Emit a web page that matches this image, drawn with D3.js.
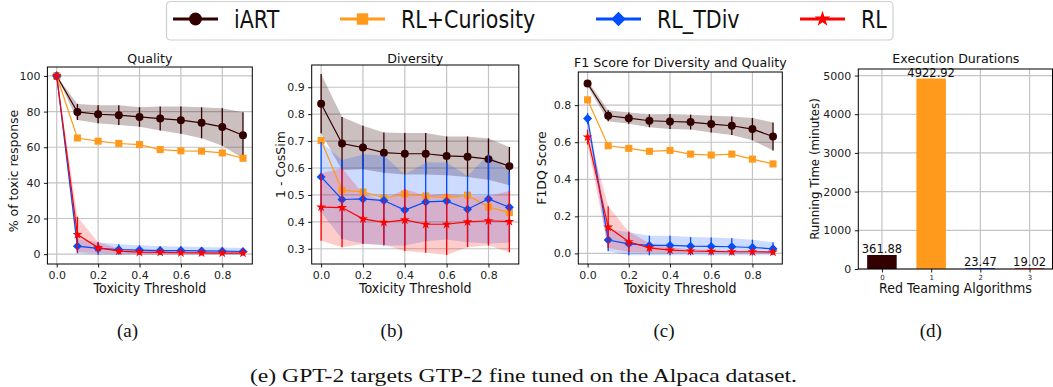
<!DOCTYPE html>
<html>
<head>
<meta charset="utf-8">
<script src="https://cdn.jsdelivr.net/npm/d3@7"></script>
<style>
  body { margin: 0; background: #fff; }
  svg { display: block; }
</style>
</head>
<body>
<svg id="chart" width="1053" height="387"></svg>
<script>
// ---- data ----
const thresholds = [0, 0.1, 0.2, 0.3, 0.4, 0.5, 0.6, 0.7, 0.8, 0.9];
const methods = ['iART', 'RL+Curiosity', 'RL_TDiv', 'RL'];

// (a) quality: % of toxic response
const qualityIart = [100, 79.8, 78.5, 78.0, 77.0, 76.1, 75.2, 73.7, 71.4, 66.7];
const qualityIartStd = [0, 4.5, 5, 5.5, 5.5, 6.7, 7.7, 8.7, 10.5, 13];
const qualityCuriosity = [100, 65.2, 63.4, 62.1, 61.5, 58.7, 58.0, 57.8, 56.8, 53.8];
const qualityTdiv = [100, 4.5, 3.2, 2.6, 2.3, 2.0, 2.0, 1.8, 1.7, 1.5];
const qualityTdivStd = [0, 4, 3.5, 3, 2.7, 2.5, 2.3, 2.2, 2.1, 2];
const qualityRl = [100, 11, 3.7, 1.7, 1.1, 1.0, 0.8, 0.7, 0.6, 0.6];
const qualityRlStd = [0, 10, 3, 1.5, 1, 1, 0.8, 0.7, 0.6, 0.6];

// (b) diversity: 1 - CosSim
const diversityIart = [0.839, 0.691, 0.676, 0.657, 0.653, 0.653, 0.645, 0.642, 0.633, 0.607];
const diversityIartStd = [0.11, 0.098, 0.081, 0.075, 0.077, 0.077, 0.072, 0.075, 0.077, 0.071];
const diversityCuriosity = [0.702, 0.518, 0.511, 0.489, 0.503, 0.496, 0.489, 0.499, 0.455, 0.434];
const diversityTdiv = [0.567, 0.483, 0.485, 0.479, 0.444, 0.474, 0.477, 0.447, 0.485, 0.454];
const diversityTdivStd = [0.13, 0.147, 0.165, 0.167, 0.132, 0.146, 0.143, 0.123, 0.165, 0.132];
const diversityRl = [0.455, 0.453, 0.411, 0.398, 0.407, 0.391, 0.391, 0.400, 0.404, 0.401];
const diversityRlStd = [0.125, 0.147, 0.093, 0.083, 0.115, 0.106, 0.114, 0.094, 0.092, 0.114];

// (c) F1DQ score
const f1Iart = [0.917, 0.743, 0.730, 0.716, 0.712, 0.709, 0.698, 0.689, 0.671, 0.631];
const f1IartStd = [0.015, 0.03, 0.03, 0.035, 0.04, 0.04, 0.045, 0.05, 0.06, 0.075];
const f1Curiosity = [0.829, 0.581, 0.567, 0.551, 0.556, 0.536, 0.531, 0.536, 0.509, 0.483];
const f1Tdiv = [0.728, 0.072, 0.052, 0.043, 0.043, 0.039, 0.038, 0.036, 0.032, 0.025];
const f1TdivStd = [0.03, 0.06, 0.062, 0.053, 0.053, 0.049, 0.048, 0.046, 0.042, 0.035];
const f1Rl = [0.628, 0.142, 0.063, 0.030, 0.018, 0.013, 0.011, 0.009, 0.009, 0.007];
const f1RlStd = [0.04, 0.113, 0.055, 0.025, 0.015, 0.01, 0.008, 0.006, 0.005, 0.005];

// (d) running time in minutes
const algoTicks = ['0', '1', '2', '3'];
const durations = [361.88, 4922.92, 23.47, 19.02];

// ---- styling ----
const colors = {'iART': '#330000', 'RL+Curiosity': '#ff9a1c', 'RL_TDiv': '#004cff', 'RL': '#ff0000'};
const markers = {'iART': 'circle', 'RL+Curiosity': 'square', 'RL_TDiv': 'diamond', 'RL': 'star'};
const bandAlpha = {'iART': 0.25, 'RL+Curiosity': 0.2, 'RL_TDiv': 0.2, 'RL': 0.2};
const FONT = 'DejaVu Sans';
const GRID = '#c4c4c4';

const svg = d3.select('#chart');

function markerPath(kind, big) {
    const k = big ? 2.6 : 1;
    if (kind === 'circle') return d3.symbol(d3.symbolCircle, 50 * k)();
    if (kind === 'square') return d3.symbol(d3.symbolSquare, 50 * k)();
    if (kind === 'diamond') return d3.symbol(d3.symbolSquare, 40 * k)();
    return d3.symbol(d3.symbolStar, 30 * k)();
}

function pad(ext) {
    const m = (ext[1] - ext[0]) * 0.05;
    return [ext[0] - m, ext[1] + m];
}

function styleAxis(ax, size) {
    ax.select('.domain').remove();
    ax.attr('font-family', FONT).attr('font-size', size);
    ax.selectAll('.tick line').attr('stroke', '#000').attr('stroke-width', 0.9);
    ax.selectAll('.tick text').attr('fill', '#222');
}

function linePanel(f, opts) {
    const g = svg.append('g');
    const x = d3.scaleLinear().domain(pad(d3.extent(thresholds))).range([f.x0, f.x1]);
    const lo = d3.min(opts.series, s => d3.min(s.mean, (v, i) => v - (s.std ? s.std[i] : 0)));
    const hi = d3.max(opts.series, s => d3.max(s.mean, (v, i) => v + (s.std ? s.std[i] : 0)));
    const y = d3.scaleLinear().domain(pad([lo, hi])).range([f.y1, f.y0]);
    const xTicks = [0, 0.2, 0.4, 0.6, 0.8];

    // grid
    g.append('g').selectAll('line').data(xTicks).join('line')
        .attr('x1', d => x(d)).attr('x2', d => x(d))
        .attr('y1', f.y0).attr('y2', f.y1)
        .attr('stroke', GRID).attr('stroke-width', 1.2);
    g.append('g').selectAll('line').data(opts.yTicks).join('line')
        .attr('x1', f.x0).attr('x2', f.x1)
        .attr('y1', d => y(d)).attr('y2', d => y(d))
        .attr('stroke', GRID).attr('stroke-width', 1.2);

    const plot = g.append('g');

    // std bands under everything
    opts.series.filter(s => s.std).forEach(s => {
        const area = d3.area()
            .x((d, i) => x(thresholds[i]))
            .y0((d, i) => y(d - s.std[i]))
            .y1((d, i) => y(d + s.std[i]));
        plot.append('path').datum(s.mean)
            .attr('d', area)
            .attr('fill', colors[s.name])
            .attr('fill-opacity', bandAlpha[s.name]);
    });

    // error bars, line and markers
    opts.series.forEach(s => {
        const c = colors[s.name];
        if (s.std) {
            plot.append('g').selectAll('line').data(s.mean).join('line')
                .attr('x1', (d, i) => x(thresholds[i])).attr('x2', (d, i) => x(thresholds[i]))
                .attr('y1', (d, i) => y(d - s.std[i])).attr('y2', (d, i) => y(d + s.std[i]))
                .attr('stroke', c).attr('stroke-width', 1.3);
        }
        const line = d3.line().x((d, i) => x(thresholds[i])).y(d => y(d));
        plot.append('path').datum(s.mean)
            .attr('d', line).attr('fill', 'none')
            .attr('stroke', c).attr('stroke-width', 1.2);
        const path = markerPath(markers[s.name], false);
        plot.append('g').selectAll('path').data(s.mean).join('path')
            .attr('d', path)
            .attr('transform', (d, i) => `translate(${x(thresholds[i])},${y(d)})` +
                (markers[s.name] === 'diamond' ? ' rotate(45)' : ''))
            .attr('fill', c);
    });

    // axes
    const ax = g.append('g').attr('transform', `translate(0,${f.y1})`)
        .call(d3.axisBottom(x).tickValues(xTicks).tickFormat(d3.format('.1f')).tickSize(3.5).tickPadding(3.5));
    styleAxis(ax, 11);
    const ay = g.append('g').attr('transform', `translate(${f.x0},0)`)
        .call(d3.axisLeft(y).tickValues(opts.yTicks).tickFormat(opts.yFmt).tickSize(3.5).tickPadding(3.5));
    styleAxis(ay, 11);

    g.append('rect')
        .attr('x', f.x0).attr('y', f.y0)
        .attr('width', f.x1 - f.x0).attr('height', f.y1 - f.y0)
        .attr('fill', 'none').attr('stroke', '#000').attr('stroke-width', 1);

    // labels
    g.append('text').text(opts.title)
        .attr('x', (f.x0 + f.x1) / 2).attr('y', opts.titleY)
        .attr('text-anchor', 'middle')
        .attr('font-family', FONT).attr('font-size', 12.6).attr('fill', '#111');
    g.append('text').text('Toxicity Threshold')
        .attr('transform', `translate(${(f.x0 + f.x1) / 2},293) scale(0.9,1)`)
        .attr('text-anchor', 'middle')
        .attr('font-family', FONT).attr('font-size', 14).attr('fill', '#111');
    g.append('text').text(opts.yLabel)
        .attr('transform', `translate(${opts.yLabelX},${opts.yLabelY || (f.y0 + f.y1) / 2}) rotate(-90)`)
        .attr('text-anchor', 'middle').attr('dy', '0.35em')
        .attr('font-family', FONT).attr('font-size', 12.5).attr('fill', '#111');
}

linePanel({x0: 47.4, x1: 252.3, y0: 67, y1: 264}, {
    title: 'Quality', titleY: 62.5,
    yLabel: '% of toxic response', yLabelX: 14, yLabelY: 171,
    yTicks: [0, 20, 40, 60, 80, 100], yFmt: d3.format('d'),
    series: [
        {name: 'iART', mean: qualityIart, std: qualityIartStd},
        {name: 'RL+Curiosity', mean: qualityCuriosity},
        {name: 'RL_TDiv', mean: qualityTdiv, std: qualityTdivStd},
        {name: 'RL', mean: qualityRl, std: qualityRlStd}
    ]
});

linePanel({x0: 311.7, x1: 518.8, y0: 65, y1: 264}, {
    title: 'Diversity', titleY: 62.5,
    yLabel: '1 - CosSim', yLabelX: 281,
    yTicks: [0.3, 0.4, 0.5, 0.6, 0.7, 0.8, 0.9], yFmt: d3.format('.1f'),
    series: [
        {name: 'iART', mean: diversityIart, std: diversityIartStd},
        {name: 'RL+Curiosity', mean: diversityCuriosity},
        {name: 'RL_TDiv', mean: diversityTdiv, std: diversityTdivStd},
        {name: 'RL', mean: diversityRl, std: diversityRlStd}
    ]
});

linePanel({x0: 578.3, x1: 782.3, y0: 72, y1: 264}, {
    title: 'F1 Score for Diversity and Quality', titleY: 66.5,
    yLabel: 'F1DQ Score', yLabelX: 542,
    yTicks: [0, 0.2, 0.4, 0.6, 0.8], yFmt: d3.format('.1f'),
    series: [
        {name: 'iART', mean: f1Iart, std: f1IartStd},
        {name: 'RL+Curiosity', mean: f1Curiosity},
        {name: 'RL_TDiv', mean: f1Tdiv, std: f1TdivStd},
        {name: 'RL', mean: f1Rl, std: f1RlStd}
    ]
});

// ---- (d) execution durations bar chart ----
(function barPanel() {
    const f = {x0: 858.3, x1: 1052.5, y0: 69, y1: 269};
    const g = svg.append('g');
    const idx = d3.range(durations.length);
    const barW = 0.6;
    const x = d3.scaleLinear()
        .domain(pad([-barW / 2, durations.length - 1 + barW / 2]))
        .range([f.x0, f.x1 + 0.7]);
    const y = d3.scaleLinear().domain([0, d3.max(durations) * 1.05]).range([f.y1, f.y0]);
    const yTicks = [0, 1000, 2000, 3000, 4000, 5000];

    g.append('g').selectAll('line').data(idx).join('line')
        .attr('x1', d => x(d)).attr('x2', d => x(d))
        .attr('y1', f.y0).attr('y2', f.y1)
        .attr('stroke', GRID).attr('stroke-width', 1.2);
    g.append('g').selectAll('line').data(yTicks).join('line')
        .attr('x1', f.x0).attr('x2', f.x1)
        .attr('y1', d => y(d)).attr('y2', d => y(d))
        .attr('stroke', GRID).attr('stroke-width', 1.2);

    g.append('g').selectAll('rect').data(durations).join('rect')
        .attr('x', (d, i) => x(i - barW / 2))
        .attr('width', (d, i) => x(i + barW / 2) - x(i - barW / 2))
        .attr('y', d => y(d))
        .attr('height', d => f.y1 - y(d))
        .attr('fill', (d, i) => colors[methods[i]]);

    g.append('g').selectAll('text').data(durations).join('text')
        .text(d => d3.format('.2f')(d))
        .attr('x', (d, i) => x(i)).attr('y', d => y(d) - 2)
        .attr('text-anchor', 'middle')
        .attr('font-family', FONT).attr('font-size', 11.5).attr('fill', '#111');

    const ax = g.append('g').attr('transform', `translate(0,${f.y1})`)
        .call(d3.axisBottom(x).tickValues(idx).tickFormat((d, i) => algoTicks[i]).tickSize(3.5).tickPadding(2.5));
    styleAxis(ax, 7);
    const ay = g.append('g').attr('transform', `translate(${f.x0},0)`)
        .call(d3.axisLeft(y).tickValues(yTicks).tickFormat(d3.format('d')).tickSize(3.5).tickPadding(3.5));
    styleAxis(ay, 11);

    g.append('rect')
        .attr('x', f.x0).attr('y', f.y0)
        .attr('width', f.x1 - f.x0).attr('height', f.y1 - f.y0)
        .attr('fill', 'none').attr('stroke', '#000').attr('stroke-width', 1);

    g.append('text').text('Execution Durations')
        .attr('x', (f.x0 + f.x1) / 2 + 0.5).attr('y', 63)
        .attr('text-anchor', 'middle')
        .attr('font-family', FONT).attr('font-size', 12.6).attr('fill', '#111');
    g.append('text').text('Red Teaming Algorithms')
        .attr('transform', `translate(${(f.x0 + f.x1) / 2},293) scale(0.9,1)`)
        .attr('text-anchor', 'middle')
        .attr('font-family', FONT).attr('font-size', 14).attr('fill', '#111');
    g.append('text').text('Running Time (minutes)')
        .attr('transform', `translate(815,${(f.y0 + f.y1) / 2}) rotate(-90)`)
        .attr('text-anchor', 'middle').attr('dy', '0.35em')
        .attr('font-family', FONT).attr('font-size', 11.8).attr('fill', '#111');
})();

// ---- legend ----
const legend = svg.append('g');
legend.append('rect')
    .attr('x', 166.5).attr('y', 1.5).attr('width', 726.5).attr('height', 38.5)
    .attr('rx', 4).attr('fill', '#fff').attr('stroke', '#cfcfcf').attr('stroke-width', 1.2);
const legendX = [173, 340, 596, 800];
methods.forEach((m, i) => {
    const lx = legendX[i];
    const item = legend.append('g');
    item.append('line')
        .attr('x1', lx).attr('x2', lx + 45).attr('y1', 19).attr('y2', 19)
        .attr('stroke', colors[m]).attr('stroke-width', 3.2);
    item.append('path')
        .attr('d', markerPath(markers[m], true))
        .attr('transform', `translate(${lx + 22.5},19)` + (markers[m] === 'diamond' ? ' rotate(45)' : ''))
        .attr('fill', colors[m]);
    item.append('text').text(m)
        .attr('transform', `translate(${lx + 61},27.5) scale(0.86,1)`)
        .attr('font-family', FONT).attr('font-size', 24).attr('fill', '#111');
});

// ---- sub captions ----
const subCaps = [['(a)', 127.5], ['(b)', 391.7], ['(c)', 664], ['(d)', 930.8]];
svg.append('g').selectAll('text').data(subCaps).join('text')
    .text(d => d[0])
    .attr('x', d => d[1]).attr('y', 337)
    .attr('text-anchor', 'middle')
    .attr('font-family', 'Liberation Serif').attr('font-size', 19).attr('fill', '#111');
svg.append('text').text('(e) GPT-2 targets GTP-2 fine tuned on the Alpaca dataset.')
    .attr('x', 250).attr('y', 382)
    .attr('textLength', 547).attr('lengthAdjust', 'spacingAndGlyphs')
    .attr('font-family', 'Liberation Serif').attr('font-size', 19).attr('fill', '#111');
</script>
</body>
</html>
